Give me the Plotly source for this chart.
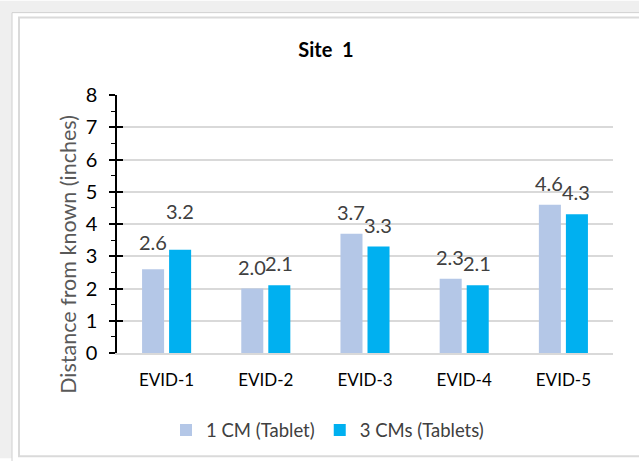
import plotly.graph_objects as go

# Chart data
categories = ["EVID-1", "EVID-2", "EVID-3", "EVID-4", "EVID-5"]
one_cm = [2.6, 2.0, 3.7, 2.3, 4.6]
three_cms = [3.2, 2.1, 3.3, 2.1, 4.3]
series_names = ["1 CM (Tablet)", "3 CMs (Tablets)"]
y_ticks = [0, 1, 2, 3, 4, 5, 6, 7, 8]

W, H = 639, 461
L, R, T, B = 117, 26, 95, 106
PW, PH = W - L - R, H - T - B

def px_x(px):
    return (px - L) / PW

def px_y(py):
    return (H - B - py) / PH

colors = ["#B4C7E7", "#00B0F0"]
font = "Lato, 'Open Sans', sans-serif"

fig = go.Figure()
for name, vals, col in zip(series_names, [one_cm, three_cms], colors):
    fig.add_trace(go.Bar(x=categories, y=vals, name=name, marker_color=col,
                         marker_line_width=0))

# invisible trace carrying the inner half of the crossing ticks
fig.add_trace(go.Scatter(x=categories, y=one_cm, yaxis="y2", mode="markers",
                         marker_opacity=0, showlegend=False, hoverinfo="skip"))

# value labels
label_dy = {(0, 0): 5, (0, 1): 17}
ann = []
for s, (vals, dx) in enumerate([(one_cm, -14), (three_cms, 13)]):
    for i, v in enumerate(vals):
        ann.append(dict(x=categories[i], y=v, xref="x", yref="y", text=f"{v:.1f}",
                        showarrow=False, xshift=dx, yanchor="bottom",
                        yshift=8 + label_dy.get((i, s), 0),
                        font=dict(size=20, color="#404040", family=font)))

# y-axis title, centred on the chart body rather than the plot area
ann.append(dict(x=px_x(68), y=px_y(256), xref="paper", yref="paper",
                text="Distance from known (inches)", textangle=-90,
                showarrow=False, xanchor="center", yanchor="middle",
                font=dict(size=21.5, color="#595959", family=font)))

shapes = [
    dict(type="rect", xref="paper", yref="paper", x0=px_x(0), x1=px_x(W),
         y0=px_y(H), y1=px_y(0), fillcolor="#efefef", line_width=0, layer="below"),
    dict(type="rect", xref="paper", yref="paper", x0=px_x(12), x1=px_x(W + 5),
         y0=px_y(H + 5), y1=px_y(12), fillcolor="#ffffff",
         line=dict(color="#d0d0d0", width=1), layer="below"),
    dict(type="rect", xref="paper", yref="paper", x0=px_x(19), x1=px_x(W + 5),
         y0=px_y(459), y1=px_y(17), fillcolor="#ffffff",
         line=dict(color="#dadada", width=2), layer="below"),
]

fig.update_layout(
    width=W, height=H,
    margin=dict(l=L, r=R, t=T, b=B, pad=0),
    paper_bgcolor="#ffffff", plot_bgcolor="rgba(0,0,0,0)",
    barmode="group", bargap=0.455, bargroupgap=0.185,
    title=dict(text="<b>Site \u00a01</b>", x=326 / W,
               xanchor="center", y=1 - 50 / H, yanchor="middle",
               font=dict(size=20, color="#000000", family=font)),
    font=dict(family=font),
    showlegend=True,
    legend=dict(orientation="h", x=px_x(166), xanchor="left", y=px_y(414),
                yanchor="top", font=dict(size=18.5, color="#404040", family=font),
                bgcolor="rgba(0,0,0,0)", traceorder="normal"),
    annotations=ann,
    shapes=shapes,
    xaxis=dict(showline=True, linecolor="#d9d9d9", linewidth=1.5, ticks="",
               tickfont=dict(size=17, color="#000000", family=font),
               ticklabelstandoff=11, showgrid=False),
    yaxis=dict(range=[0, 8], tickvals=y_ticks, showline=True, linecolor="#000000",
               linewidth=1.5, ticks="outside", ticklen=6, tickwidth=1.5,
               tickcolor="#000000",
               minor=dict(dtick=0.5, ticks="outside", ticklen=4, tickwidth=1.2,
                          tickcolor="#000000", showgrid=False),
               showgrid=True, gridcolor="#d9d9d9", gridwidth=1.5, zeroline=False,
               tickfont=dict(size=20, color="#000000", family=font),
               ticklabelstandoff=8),
    yaxis2=dict(range=[0, 8], overlaying="y", side="left", tickvals=y_ticks,
                ticks="inside", ticklen=6, tickwidth=1.5, tickcolor="#000000",
                showticklabels=False, showgrid=False, showline=False,
                zeroline=False),
)

fig.write_html("out.html")
